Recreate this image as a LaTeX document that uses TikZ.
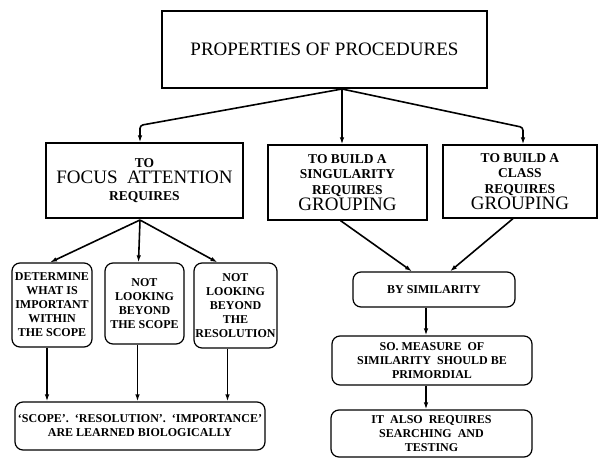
\documentclass[tikz,border=0pt]{standalone}
\usepackage{fontspec}
\setmainfont{Liberation Serif}
\usetikzlibrary{arrows.meta}
\tikzset{
  plainbox/.style={draw,line width=1.2pt,inner sep=0pt,align=center,
    font=\fontsize{13.5}{15.5}\selectfont\bfseries},
  roundbox/.style={plainbox,rounded corners=8pt,
    font=\fontsize{12}{14}\selectfont\bfseries},
  link/.style={-{Latex[length=7pt,width=4.5pt]},line width=1.6pt,rounded corners=3pt},
}
\newcommand{\bigword}[1]{{\fontsize{19}{19}\selectfont\mdseries #1}}
\begin{document}
\begin{tikzpicture}[x=1pt,y=-1pt]
  \useasboundingbox (0,0) rectangle (598,458);
  % upper row
  \node [plainbox,minimum width=325pt,minimum height=77pt,
    font=\fontsize{19}{20}\selectfont] (props) at (324.5,49.5) {PROPERTIES OF PROCEDURES};
  \node [plainbox,minimum width=197pt,minimum height=75pt] (focus) at (144.5,180.5)
    {TO\\[1pt]\bigword{FOCUS\ \ ATTENTION}\\[1pt]REQUIRES};
  \node [plainbox,minimum width=159pt,minimum height=75pt] (single) at (347.5,182.5)
    {TO BUILD A\\SINGULARITY\\REQUIRES\\[1pt]\bigword{GROUPING}};
  \node [plainbox,minimum width=154pt,minimum height=73pt] (class) at (520,181.5)
    {TO BUILD A\\CLASS\\REQUIRES\\[1pt]\bigword{GROUPING}};
  % left branch
  \node [roundbox,minimum width=80pt,minimum height=84pt] (det) at (52,305)
    {DETERMINE\\WHAT IS\\IMPORTANT\\WITHIN\\THE SCOPE};
  \node [roundbox,minimum width=79pt,minimum height=81pt] (scope) at (144.5,303.5)
    {NOT\\LOOKING\\BEYOND\\THE SCOPE};
  \node [roundbox,minimum width=83pt,minimum height=85pt] (res) at (235.5,305.5)
    {NOT\\LOOKING\\BEYOND\\THE\\RESOLUTION};
  \node [roundbox,minimum width=250pt,minimum height=48pt] (learned) at (140,426)
    {`SCOPE'.\ \ `RESOLUTION'.\ \ `IMPORTANCE'\\ARE LEARNED BIOLOGICALLY};
  % right branch
  \node [roundbox,minimum width=162pt,minimum height=35pt] (simil) at (434,289.5)
    {BY SIMILARITY};
  \node [roundbox,minimum width=200pt,minimum height=49pt] (measure) at (432,360.5)
    {SO. MEASURE\ \ OF\\SIMILARITY\ \ SHOULD BE\\PRIMORDIAL};
  \node [roundbox,minimum width=201pt,minimum height=47pt] (search) at (431.5,433.5)
    {IT\ \ ALSO\ \ REQUIRES\\SEARCHING\ \ AND\\TESTING};
  \coordinate (apex) at (342,89);
  \coordinate (fork) at (140,220);
  % connectors
  \draw [link] (apex) -- ([xshift=-4.5pt,yshift=17pt]focus.north) -- ([xshift=-4.5pt]focus.north);
  \draw [link] (apex) -- (apex |- single.north);
  \draw [link] (apex) -- ([xshift=3pt,yshift=17pt]class.north) -- ([xshift=3pt]class.north);
  \draw [link] (fork) -- ([xshift=-2pt]det.north);
  \draw [link] (fork) -- ([xshift=-6pt]scope.north);
  \draw [link] (fork) -- ([xshift=-18pt]res.north);
  \draw [link] ([xshift=-5pt]det.south) -- ([xshift=-5pt]det.south |- learned.north);
  \draw [link] ([xshift=-7pt]scope.south) -- ([xshift=-7pt]scope.south |- learned.north);
  \draw [link] ([xshift=-8pt]res.south) -- ([xshift=-8pt]res.south |- learned.north);
  \draw [link] ([xshift=-7pt]single.south) -- ([xshift=-22pt]simil.north);
  \draw [link] ([xshift=-7pt]class.south) -- ([xshift=16pt]simil.north);
  \draw [link] ([xshift=-8pt]simil.south) -- ([xshift=-8pt]simil.south |- measure.north);
  \draw [link] ([xshift=-8pt]simil.south |- measure.south) -- ([xshift=-8pt]simil.south |- search.north);
\end{tikzpicture}
\end{document}
